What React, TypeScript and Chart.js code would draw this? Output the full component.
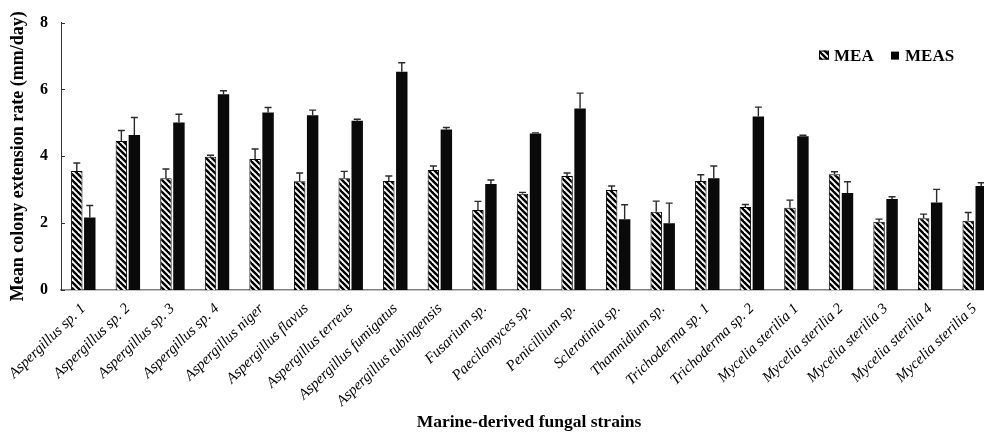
import React, { useEffect, useRef } from "react";
import { Chart, registerables } from "chart.js";
Chart.register(...registerables);

const categories = [
  "Aspergillus sp. 1",
  "Aspergillus sp. 2",
  "Aspergillus sp. 3",
  "Aspergillus sp. 4",
  "Aspergillus niger",
  "Aspergillus flavus",
  "Aspergillus terreus",
  "Aspergillus fumigatus",
  "Aspergillus tubingensis",
  "Fusarium sp.",
  "Paecilomyces sp.",
  "Penicillium sp.",
  "Sclerotinia sp.",
  "Thamnidium sp.",
  "Trichoderma sp. 1",
  "Trichoderma sp. 2",
  "Mycelia sterilia 1",
  "Mycelia sterilia 2",
  "Mycelia sterilia 3",
  "Mycelia sterilia 4",
  "Mycelia sterilia 5",
];

const meaValues = [3.56, 4.46, 3.34, 3.99, 3.92, 3.25, 3.34, 3.26, 3.59, 2.39, 2.88, 3.41, 2.99, 2.34, 3.26, 2.48, 2.46, 3.46, 2.04, 2.15, 2.07];
const meaErrors = [0.24, 0.31, 0.28, 0.04, 0.3, 0.25, 0.21, 0.15, 0.12, 0.26, 0.04, 0.09, 0.12, 0.32, 0.19, 0.08, 0.23, 0.08, 0.08, 0.12, 0.25];
const measValues = [2.17, 4.64, 5.01, 5.86, 5.31, 5.23, 5.06, 6.53, 4.8, 3.17, 4.68, 5.43, 2.12, 2.0, 3.34, 5.19, 4.6, 2.9, 2.72, 2.62, 3.11];
const measErrors = [0.36, 0.52, 0.25, 0.1, 0.15, 0.15, 0.05, 0.27, 0.06, 0.12, 0.02, 0.46, 0.43, 0.6, 0.37, 0.28, 0.03, 0.34, 0.07, 0.39, 0.1];

const yTicks = [0, 2, 4, 6, 8];
const seriesNames = ["MEA", "MEAS"];

const SERIF = "'Liberation Serif', 'Times New Roman', serif";

export default function App() {
  const ref = useRef<HTMLCanvasElement>(null);

  useEffect(() => {
    const canvas = ref.current!;
    const tile = document.createElement("canvas");
    tile.width = 6;
    tile.height = 6;
    const t = tile.getContext("2d")!;
    t.fillStyle = "#ffffff";
    t.fillRect(0, 0, 6, 6);
    t.strokeStyle = "#000000";
    t.lineWidth = 2.4;
    for (const k of [-6, 0, 6]) {
      t.beginPath();
      t.moveTo(k - 1, -1);
      t.lineTo(k + 7, 7);
      t.stroke();
    }
    const pattern = canvas.getContext("2d")!.createPattern(tile, "repeat")!;

    const errorsBySeries = [meaErrors, measErrors];

    const extras = {
      id: "extras",
      afterDatasetsDraw(chart: any) {
        const ctx = chart.ctx;
        const y = chart.scales.y;
        const area = chart.chartArea;
        ctx.save();
        errorsBySeries.forEach((errs, di) => {
          const meta = chart.getDatasetMeta(di);
          meta.data.forEach((bar: any, i: number) => {
            const v = chart.data.datasets[di].data[i] as number;
            const top = y.getPixelForValue(v + errs[i]);
            ctx.strokeStyle = "#2a2a2a";
            ctx.lineWidth = 1.4;
            ctx.beginPath();
            ctx.moveTo(bar.x, bar.y);
            ctx.lineTo(bar.x, top);
            ctx.moveTo(bar.x - 3.5, top);
            ctx.lineTo(bar.x + 3.5, top);
            ctx.stroke();
          });
        });
        ctx.strokeStyle = "#333333";
        ctx.lineWidth = 1;
        yTicks.forEach((v) => {
          const py = Math.round(y.getPixelForValue(v)) + 0.5;
          ctx.beginPath();
          ctx.moveTo(area.left, py);
          ctx.lineTo(area.left + 4, py);
          ctx.stroke();
        });
        ctx.restore();
      },
      afterDraw(chart: any) {
        const ctx = chart.ctx;
        const area = chart.chartArea;
        const cy = area.top + 33;
        ctx.save();
        ctx.font = `bold 17px ${SERIF}`;
        ctx.textBaseline = "middle";
        let x = area.right - 178;
        ctx.fillStyle = pattern;
        ctx.fillRect(x, cy - 5, 10, 9);
        ctx.strokeStyle = "#000";
        ctx.lineWidth = 1;
        ctx.strokeRect(x + 0.5, cy - 4.5, 9, 8);
        ctx.fillStyle = "#000";
        ctx.fillText(seriesNames[0], x + 15, cy + 1);
        x = area.right - 106;
        ctx.fillStyle = "#000";
        ctx.fillRect(x, cy - 4, 8, 8);
        ctx.fillText(seriesNames[1], x + 14, cy + 1);
        ctx.restore();
      },
    };

    const chart = new Chart(canvas, {
      type: "bar",
      data: {
        labels: categories,
        datasets: [
          {
            label: seriesNames[0],
            data: meaValues,
            backgroundColor: pattern,
            borderColor: "#000",
            borderWidth: 1,
            categoryPercentage: 0.583,
            barPercentage: 0.88,
          },
          {
            label: seriesNames[1],
            data: measValues,
            backgroundColor: "#0a0a0a",
            borderColor: "#0a0a0a",
            borderWidth: 0,
            categoryPercentage: 0.583,
            barPercentage: 0.88,
          },
        ],
      },
      options: {
        animation: false,
        responsive: true,
        maintainAspectRatio: false,
        layout: { padding: { top: 20, right: 3, left: 0, bottom: 0 } },
        plugins: {
          legend: { display: false },
          tooltip: { enabled: false },
        },
        scales: {
          x: {
            grid: { display: false, drawTicks: false },
            border: { display: true, color: "#808080", width: 1.6 },
            ticks: {
              autoSkip: false,
              minRotation: 44,
              maxRotation: 44,
              padding: 10,
              color: "#000",
              font: { family: SERIF, size: 15, style: "italic" },
            },
            title: {
              display: true,
              text: "Marine-derived fungal strains",
              color: "#000",
              font: { family: SERIF, size: 17.5, weight: "bold" },
              padding: { top: 0, bottom: 0 },
            },
            afterFit: (s: any) => {
              s.height = 143;
            },
          },
          y: {
            min: 0,
            max: 8,
            afterBuildTicks: (s: any) => {
              s.ticks = yTicks.map((v) => ({ value: v }));
            },
            grid: { display: false, drawTicks: false },
            border: { display: true, color: "#333", width: 1 },
            ticks: {
              padding: 13,
              color: "#000",
              font: { family: SERIF, size: 16, weight: "bold" },
            },
            title: {
              display: true,
              text: "Mean colony extension rate (mm/day)",
              color: "#000",
              font: { family: SERIF, size: 18, weight: "bold" },
              padding: { top: 8, bottom: 0 },
            },
            afterFit: (s: any) => {
              s.width = 61;
            },
          },
        },
      },
      plugins: [extras],
    });
    return () => chart.destroy();
  }, []);

  return (
    <div style={{ position: "fixed", left: 0, top: 0, width: 1000, height: 433, background: "#fff" }}>
      <canvas ref={ref} />
    </div>
  );
}
